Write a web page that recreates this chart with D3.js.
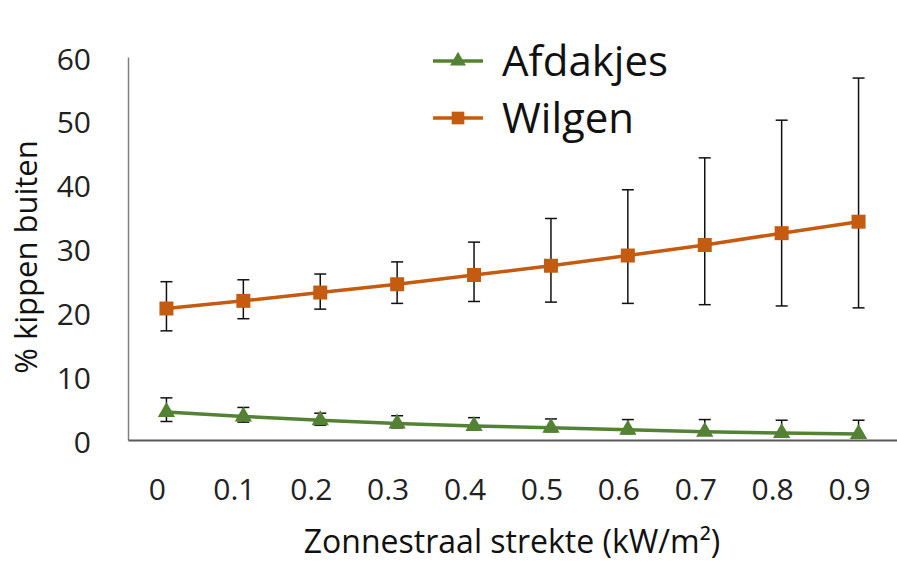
<!DOCTYPE html>
<html><head><meta charset="utf-8">
<script src="https://cdn.jsdelivr.net/npm/d3@7/dist/d3.min.js"></script>
<style>body{margin:0;background:#fff}svg{display:block}</style>
</head><body>
<script>
const categories = ["0","0.1","0.2","0.3","0.4","0.5","0.6","0.7","0.8","0.9"];
const afdakjes = [4.4,3.7,3.1,2.6,2.2,1.9,1.6,1.3,1.1,0.95];
const afdakjesUpper = [6.6,5.1,4.2,3.8,3.5,3.3,3.2,3.2,3.1,3.1];
const afdakjesLower = [2.9,2.8,2.3,1.9,1.6,1.3,1.0,0.8,0.6,0.5];
const wilgen = [20.6,21.8,23.1,24.4,25.85,27.3,28.9,30.55,32.4,34.2];
const wilgenUpper = [24.8,25.1,26.0,27.9,31.0,34.7,39.2,44.2,50.1,56.7];
const wilgenLower = [17.1,19.0,20.5,21.4,21.7,21.6,21.4,21.2,21.0,20.7];
const yTicks = [0,10,20,30,40,50,60];
const seriesNames = ["Afdakjes","Wilgen"];
const colors = ["#548235","#C55A11"];

const W=897,H=562;
const m={l:128,r:0,t:57,b:122};
const svg=d3.select("body").append("svg").attr("width",W).attr("height",H);
const font="'Open Sans', sans-serif";

const x=d3.scaleBand().domain(categories).range([m.l,W-m.r]);
const y=d3.scaleLinear().domain([0,60]).range([H-m.b,m.t]);
const cx=d=>x(d)+x.bandwidth()/2;

// y axis
const ya=svg.append("g").attr("transform",`translate(${m.l},0)`)
  .call(d3.axisLeft(y).tickValues(yTicks).tickSize(0).tickPadding(37));
ya.select(".domain").attr("stroke","#808080").attr("stroke-width",1.5);
ya.selectAll("text").attr("font-family",font).attr("font-size",30).attr("fill","#222").attr("dy","0.4em");

// x axis
const xa=svg.append("g").attr("transform",`translate(0,${H-m.b})`)
  .call(d3.axisBottom(x).tickSize(0).tickPadding(39));
xa.select(".domain").attr("stroke","#595959").attr("stroke-width",2);
xa.selectAll("text").attr("font-family",font).attr("font-size",30).attr("fill","#222").attr("dx",-9);

// titles
svg.append("text").attr("x",512).attr("y",553).attr("text-anchor","middle")
  .attr("font-family",font).attr("font-size",32).attr("fill","#111").text("Zonnestraal strekte (kW/m²)");
svg.append("text").attr("transform","translate(37,257) rotate(-90)").attr("text-anchor","middle")
  .attr("font-family",font).attr("font-size",31).attr("fill","#111").text("% kippen buiten");

const series=[
  {name:seriesNames[0],vals:afdakjes,up:afdakjesUpper,lo:afdakjesLower,color:colors[0],shape:d3.symbolTriangle},
  {name:seriesNames[1],vals:wilgen,up:wilgenUpper,lo:wilgenLower,color:colors[1],shape:d3.symbolSquare}
];

series.forEach(s=>{
  const g=svg.append("g");
  categories.forEach((c,i)=>{
    const xx=cx(c);
    g.append("line").attr("x1",xx).attr("x2",xx).attr("y1",y(s.up[i])).attr("y2",y(s.lo[i])).attr("stroke","#111").attr("stroke-width",1.5);
    [s.up[i],s.lo[i]].forEach(v=>g.append("line").attr("x1",xx-6).attr("x2",xx+6).attr("y1",y(v)).attr("y2",y(v)).attr("stroke","#111").attr("stroke-width",1.5));
  });
  g.append("path").datum(s.vals)
    .attr("d",d3.line().x((d,i)=>cx(categories[i])).y(d=>y(d)))
    .attr("fill","none").attr("stroke",s.color).attr("stroke-width",3.5);
  g.selectAll("path.m").data(s.vals).join("path").attr("class","m")
    .attr("transform",(d,i)=>`translate(${cx(categories[i])},${y(d)})`)
    .attr("d",d3.symbol(s.shape, s.shape===d3.symbolSquare?196:130)())
    .attr("fill",s.color);
});

// legend
const lg=svg.append("g");
series.forEach((s,i)=>{
  const ly=61+i*57;
  lg.append("line").attr("x1",433).attr("x2",483).attr("y1",ly).attr("y2",ly).attr("stroke",s.color).attr("stroke-width",3.5);
  lg.append("path").attr("transform",`translate(458,${ly})`).attr("d",d3.symbol(s.shape, s.shape===d3.symbolSquare?160:110)()).attr("fill",s.color);
  lg.append("text").attr("x",502).attr("y",ly+15).attr("font-family",font).attr("font-size",42).attr("fill","#111").text(s.name);
});
</script>
</body></html>
